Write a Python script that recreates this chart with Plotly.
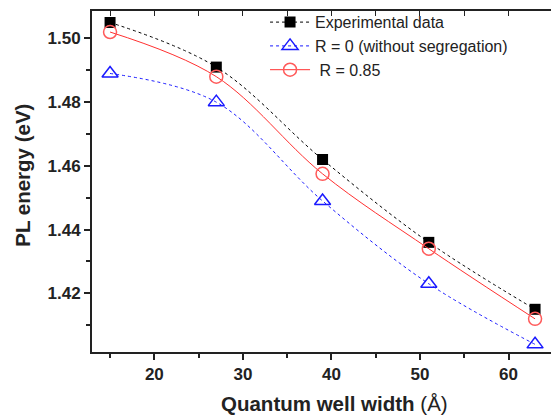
import plotly.graph_objects as go

width_A = [15, 27, 39, 51, 63]
exp_data = [1.505, 1.491, 1.462, 1.436, 1.415]
r0_data = [1.489, 1.480, 1.449, 1.423, 1.404]
r085_data = [1.502, 1.488, 1.4575, 1.434, 1.412]

x_ticks = [20, 30, 40, 50, 60]
y_ticks = [1.42, 1.44, 1.46, 1.48, 1.50]

fig = go.Figure()
fig.add_trace(go.Scatter(
    x=width_A, y=exp_data, name="Experimental data", mode="lines+markers",
    line=dict(color="black", width=1, dash="dot", shape="spline"),
    marker=dict(symbol="square", size=11, color="black")))
fig.add_trace(go.Scatter(
    x=width_A, y=r0_data, name="R = 0 (without segregation)", mode="lines+markers",
    line=dict(color="#1a1aff", width=1, dash="dot", shape="spline"),
    marker=dict(symbol="triangle-up-open", size=14, color="#1a1aff", line=dict(width=1.5))))
fig.add_trace(go.Scatter(
    x=width_A, y=r085_data, name=" R = 0.85", mode="lines+markers",
    line=dict(color="#ff3030", width=1, shape="spline"),
    marker=dict(symbol="circle-open", size=13, color="#ff5a5a", line=dict(width=1.5))))

font_family = "Liberation Sans, Arial"
tickfont = dict(family=font_family, size=17, color="#222", weight="bold")
fig.update_layout(
    width=551, height=416,
    margin=dict(l=92, r=0, t=11, b=64),
    paper_bgcolor="white", plot_bgcolor="white",
    showlegend=True,
    legend=dict(x=0.377, y=1.017, xanchor="left", yanchor="top",
                font=dict(family=font_family, size=16, color="#222"),
                bgcolor="rgba(0,0,0,0)", tracegroupgap=0, itemwidth=40),
    xaxis=dict(range=[12.96, 64.8], tickvals=x_ticks, showline=True, linecolor="#222",
               linewidth=2, ticks="outside", ticklen=6, tickwidth=1.5, tickcolor="#222",
               minor=dict(dtick=5, ticks="outside", ticklen=4, tickwidth=1.5, tickcolor="#222"),
               showgrid=False, zeroline=False, tickfont=tickfont),
    xaxis2=dict(range=[12.96, 64.8], overlaying="x", side="top", showline=True, linecolor="#222",
                linewidth=2, ticks="inside", ticklen=5, tickwidth=1, tickcolor="#222",
                tickvals=[15, 25, 35, 45, 55, 65] + x_ticks, showticklabels=False, showgrid=False,
                zeroline=False),
    yaxis=dict(range=[1.4016, 1.5086], tickvals=y_ticks, tickformat=".2f", showline=True,
               linecolor="#222", linewidth=2, ticks="outside", ticklen=6, tickwidth=1.5,
               tickcolor="#222",
               minor=dict(dtick=0.01, tick0=1.40, ticks="outside", ticklen=4, tickwidth=1.5,
                          tickcolor="#222"),
               showgrid=False, zeroline=False, tickfont=tickfont),
    annotations=[
        dict(text="<b>Quantum well width</b> (Å)", xref="paper", yref="paper",
             x=0.529, y=-0.151, xanchor="center", yanchor="middle", showarrow=False,
             font=dict(family=font_family, size=20.5, color="#222")),
        dict(text="<b>PL energy (eV)</b>", xref="paper", yref="paper", textangle=-90,
             x=-0.153, y=0.519, xanchor="center", yanchor="middle", showarrow=False,
             font=dict(family=font_family, size=20.5, color="#222")),
    ],
)
fig.add_trace(go.Scatter(x=[None], y=[None], xaxis="x2", showlegend=False, hoverinfo="skip"))
fig.write_html("out.html", config={"displayModeBar": False},
               post_script="document.body.style.margin='0';document.body.style.overflow='hidden';")
